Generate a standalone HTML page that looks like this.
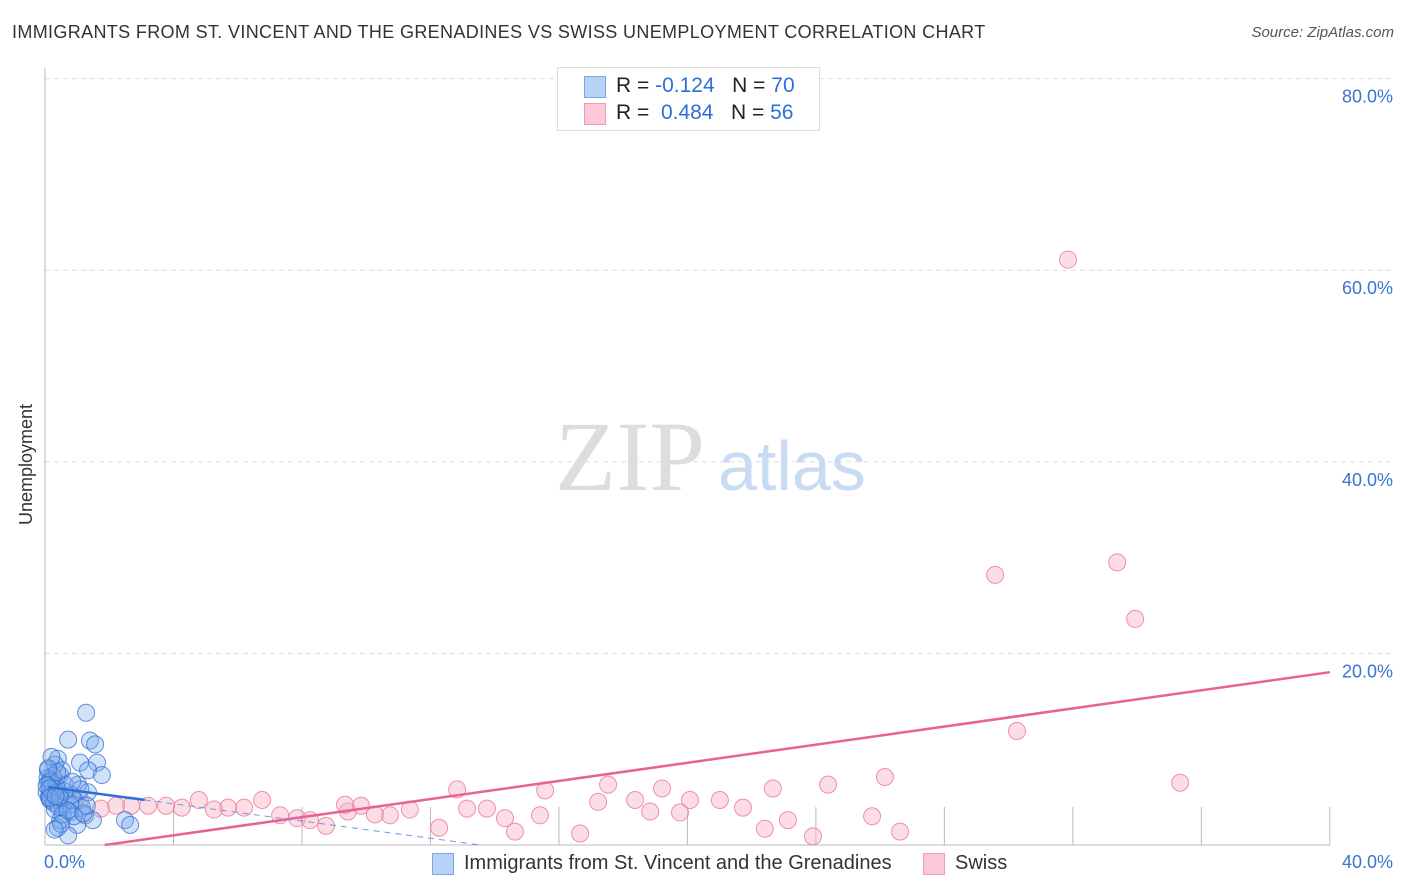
<!DOCTYPE html>
<html><head><meta charset="utf-8"><style>
body{margin:0;background:#fff;font-family:"Liberation Sans",sans-serif;}
#wrap{position:relative;width:1406px;height:892px;overflow:hidden;}
.t{position:absolute;white-space:nowrap;}
</style></head><body>
<div id="wrap">
<div class="t" style="left:12px;top:22px;font-size:18px;letter-spacing:0.35px;color:#333;">IMMIGRANTS FROM ST. VINCENT AND THE GRENADINES VS SWISS UNEMPLOYMENT CORRELATION CHART</div>
<div class="t" style="right:12px;top:24px;font-size:15px;color:#555;font-style:italic;">Source: ZipAtlas.com</div>
<svg id="svg" width="1406" height="892" style="position:absolute;left:0;top:0"></svg>
</div>
<script>
const yTicks=[20,40,60,80];
const xTickCount=10;
const blueX=[1.28,0.72,1.40,1.56,0.40,1.09,1.62,1.34,1.77,0.47,0.25,0.34,0.16,0.40,0.65,0.93,1.15,0.56,0.78,1.25,1.49,0.47,1.00,2.49,2.65,0.40,0.72,0.22,0.09,0.31,0.53,0.16,0.84,0.47,0.62,1.03,1.34,0.78,0.31,0.2,0.1,0.3,0.05,0.15,0.25,0.35,0.12,0.22,0.08,0.18,0.28,0.42,0.55,0.9,1.1,0.6,0.05,0.14,0.38,0.7,1.2,0.5,0.3,0.2,0.1,0.15,0.45,0.85,1.3,0.33];
const blueY=[13.8,11.0,10.9,10.5,9.0,8.6,8.6,7.8,7.3,7.3,6.8,5.7,5.2,4.7,4.7,4.7,3.9,3.9,3.4,3.1,2.6,2.6,2.1,2.6,2.1,1.8,1.0,6.3,7.8,8.4,7.8,4.7,5.2,5.2,6.3,6.3,5.5,4.2,3.7,6.0,6.5,5.8,5.5,6.8,7.2,6.1,5.0,5.4,7.0,6.6,4.4,4.0,3.2,3.0,5.8,5.6,6.2,5.9,7.6,3.6,3.3,2.2,1.6,9.2,8.0,4.9,5.0,6.6,4.1,5.1];
const pinkX=[31.85,29.58,33.38,33.94,30.26,35.34,26.15,24.38,22.66,19.21,17.53,15.57,12.83,21.01,20.08,18.37,17.22,21.73,18.84,19.77,25.75,23.13,22.41,23.91,26.62,16.66,14.63,15.41,14.32,13.76,13.14,11.36,10.74,10.27,9.43,9.84,9.34,8.75,12.27,7.85,8.25,7.32,6.76,6.20,5.70,5.26,4.79,4.26,3.77,3.21,2.68,2.21,1.74,1.09,0.47,0.22];
const pinkY=[61.1,28.2,29.5,23.6,11.9,6.5,7.1,6.3,5.9,5.9,6.3,5.7,5.8,4.7,4.7,4.7,4.5,3.9,3.5,3.4,3.0,2.6,1.7,0.9,1.4,1.2,1.4,3.1,2.8,3.8,3.8,3.7,3.1,3.2,3.5,4.1,4.2,2.0,1.8,2.8,2.6,3.1,4.7,3.9,3.9,3.7,4.7,3.9,4.1,4.1,4.1,4.1,3.8,4.7,5.2,4.7];
const pinkLine=[0.473,-0.88];
const blueLine=[-0.45,6.1];

const svg=document.getElementById('svg');const NS='http://www.w3.org/2000/svg';
const X=v=>45+v*32.12, Y=v=>845-v*9.58;
function el(tag,attrs,parent){const e=document.createElementNS(NS,tag);for(const k in attrs)e.setAttribute(k,attrs[k]);(parent||svg).appendChild(e);return e;}
yTicks.forEach(t=>{
 const g=el('line',{x1:45,x2:1395,y1:Y(t),y2:Y(t),stroke:'#ddd','stroke-dasharray':'5,4'});
 
 
 const tx=el('text',{x:1393,y:Y(t)+24,'text-anchor':'end','font-size':18,fill:'#3a74d0','font-family':'Liberation Sans'});
 tx.textContent=t.toFixed(1)+'%';
 
 
});
el('line',{x1:45,x2:45,y1:68,y2:845,stroke:'#bbb'});
el('line',{x1:45,x2:1330,y1:845,y2:845,stroke:'#bbb'});
for(let i=1;i<=xTickCount;i++){const tk=el('line',{x1:X(i*4),x2:X(i*4),y1:807,y2:845,stroke:'#bbb'});
 
 }
const w1=el('text',{x:555,y:490,'font-size':100,fill:'#ddd','font-family':'Liberation Serif'});w1.textContent='ZIP';


const w2=el('text',{x:718,y:490,'font-size':70,fill:'#c9dbf3','font-family':'Liberation Sans'});w2.textContent='atlas';


pinkX.forEach((v,i)=>{const c=el('circle',{cx:X(v),cy:Y(pinkY[i]),r:8.5,fill:'rgba(248,180,200,0.45)',stroke:'rgba(232,120,155,0.8)','stroke-width':1});
 
 });
blueX.forEach((v,i)=>{const c=el('circle',{cx:X(v),cy:Y(blueY[i]),r:8.5,fill:'rgba(120,170,235,0.35)',stroke:'rgba(50,110,210,0.75)','stroke-width':1});
 
 });
const x0p=-pinkLine[1]/pinkLine[0];
const pl=el('line',{x1:X(x0p),y1:Y(0),x2:X(40),y2:Y(pinkLine[0]*40+pinkLine[1]),stroke:'#e8638f','stroke-width':2.5});


const bl=el('line',{x1:X(0.1),y1:Y(blueLine[1]+blueLine[0]*0.1),x2:X(3.1),y2:Y(blueLine[1]+blueLine[0]*3.1),stroke:'#2e6fd8','stroke-width':2.5});


const x0b=-blueLine[1]/blueLine[0];
const bd=el('line',{x1:X(3.1),y1:Y(blueLine[1]+blueLine[0]*3.1),x2:X(x0b),y2:Y(0),stroke:'#6a9ae0','stroke-width':1,'stroke-dasharray':'6,5'});


</script>
<div class="t" style="left:44px;top:852px;font-size:18px;color:#3a74d0;">0.0%</div>
<div class="t" style="right:13px;top:852px;font-size:18px;color:#3a74d0;">40.0%</div>
<div class="t" style="left:16px;top:525px;font-size:18px;color:#333;transform:rotate(-90deg);transform-origin:0 0;">Unemployment</div>
<div style="position:absolute;left:557px;top:67px;width:261px;height:62px;border:1px solid #ddd;background:#fff;font-size:21px;color:#222;">
 <div style="position:absolute;left:26px;top:8px;width:20px;height:20px;background:#b6d2f5;border:1px solid #7aa7e6;"></div>
 <div class="t" style="left:58px;top:6px;">R = <span style="color:#2e6fd8">-0.124</span>&nbsp;&nbsp;&nbsp;N = <span style="color:#2e6fd8">70</span></div>
 <div style="position:absolute;left:26px;top:35px;width:20px;height:20px;background:#fbc8d7;border:1px solid #f09ab5;"></div>
 <div class="t" style="left:58px;top:33px;">R = &nbsp;<span style="color:#2e6fd8">0.484</span>&nbsp;&nbsp;&nbsp;N = <span style="color:#2e6fd8">56</span></div>
</div>
<div style="position:absolute;left:432px;top:853px;width:20px;height:20px;background:#b6d2f5;border:1px solid #7aa7e6;"></div>
<div class="t" style="left:464px;top:852px;font-size:20px;color:#333;">Immigrants from St. Vincent and the Grenadines</div>
<div style="position:absolute;left:923px;top:853px;width:20px;height:20px;background:#fbc8d7;border:1px solid #f09ab5;"></div>
<div class="t" style="left:955px;top:852px;font-size:20px;color:#333;">Swiss</div>
</body></html>
